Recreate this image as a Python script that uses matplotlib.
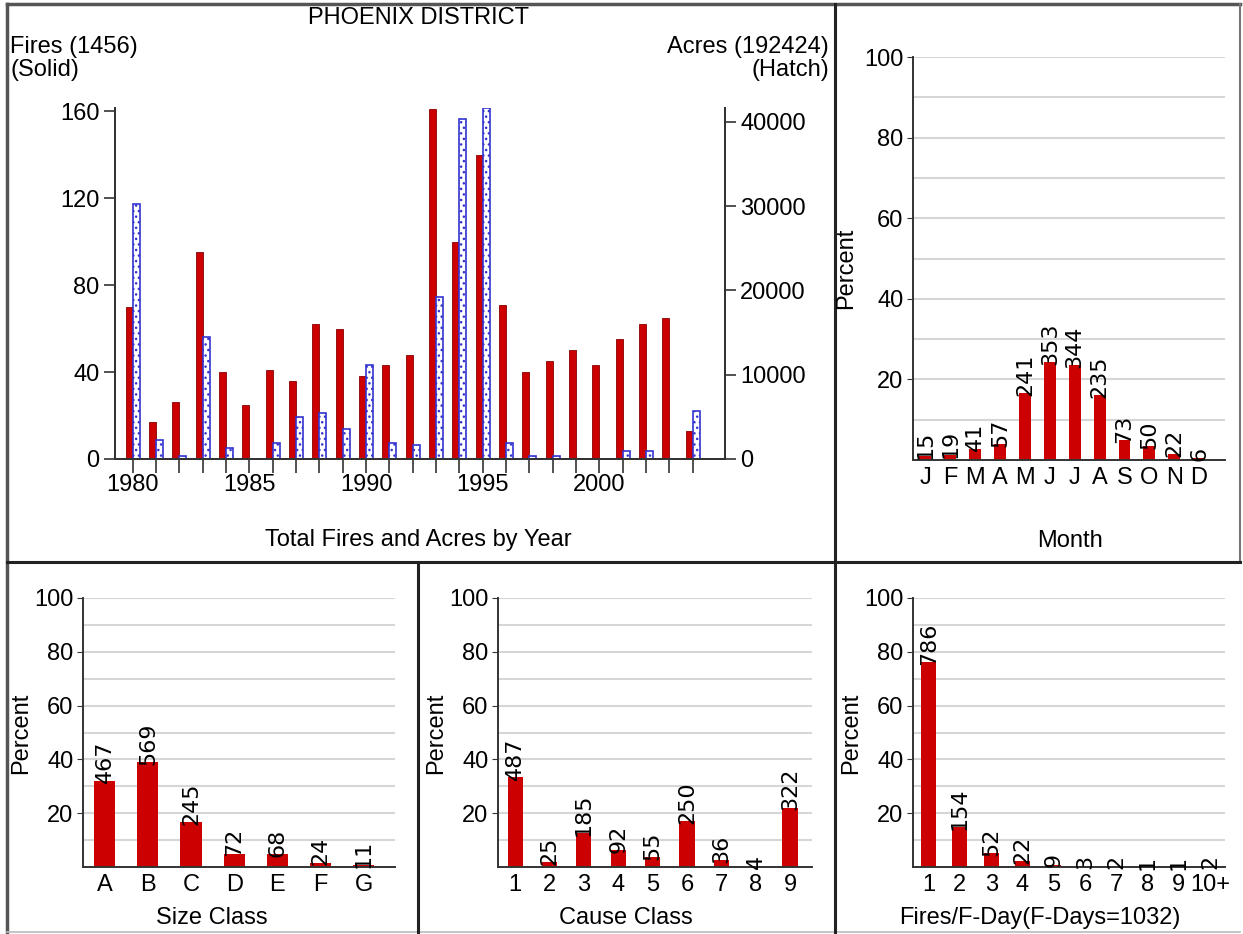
import matplotlib
matplotlib.use("Agg")
import matplotlib.pyplot as plt
from matplotlib import font_manager
from matplotlib.lines import Line2D
import numpy as np

# pick a narrow sans if we have one, the reference text is tall and thin
names = {f.name for f in font_manager.fontManager.ttflist}
if 'Liberation Sans Narrow' in names:
    plt.rcParams['font.family'] = ['Liberation Sans Narrow', 'DejaVu Sans']
else:
    plt.rcParams['font.family'] = ['Liberation Sans', 'DejaVu Sans']
plt.rcParams['hatch.linewidth'] = 1.0

# ---- data ----
years = list(range(1980, 2005))
fires = [70, 17, 26, 95, 40, 25, 41, 36, 62, 60, 38, 43, 48,
         161, 100, 140, 71, 40, 45, 50, 43, 55, 62, 65, 13]
acres = [30270, 2255, 300, 14500, 1340, 0, 1935, 4950, 5420, 3525, 11120, 1935, 1625,
         19190, 40320, 41630, 1935, 300, 400, 0, 0, 950, 950, 0, 5700]

months = ['J', 'F', 'M', 'A', 'M', 'J', 'J', 'A', 'S', 'O', 'N', 'D']
month_counts = [15, 19, 41, 57, 241, 353, 344, 235, 73, 50, 22, 6]

size_cls = ['A', 'B', 'C', 'D', 'E', 'F', 'G']
size_counts = [467, 569, 245, 72, 68, 24, 11]

cause_cls = ['1', '2', '3', '4', '5', '6', '7', '8', '9']
cause_counts = [487, 25, 185, 92, 55, 250, 36, 4, 322]

fday_cls = ['1', '2', '3', '4', '5', '6', '7', '8', '9', '10+']
fday_counts = [786, 154, 52, 22, 9, 3, 2, 1, 1, 2]

total_fires = 1456
total_acres = 192424
fdays = 1032

RED = '#cc0000'
BLUE = '#3434d0'
DARK = '#333333'
GRID = '#d6d6d6'
FS = 17

W, H = 1243, 934
fig = plt.figure(figsize=(W / 100, H / 100), dpi=100)


def box(x0, y0, x1, y1):
    return [x0 / W, 1 - y1 / H, (x1 - x0) / W, (y1 - y0) / H]


def ftext(x, y, s, **kw):
    fig.text(x / W, 1 - y / H, s, **kw)


def fline(xs, ys, **kw):
    fig.add_artist(Line2D([x / W for x in xs], [1 - y / H for y in ys], **kw))


# ---- top left: fires and acres by year ----
ax = fig.add_axes(box(115, 108, 725, 459))
ax.bar(years, fires, width=-0.3, align='edge', color=RED, edgecolor='#8a0000', linewidth=0.6)
ax2 = ax.twinx()
ax2.bar(years, acres, width=0.3, align='edge', facecolor='white', edgecolor=BLUE,
        hatch='...', linewidth=1.2)
ax.set_xlim(1979.24, 2005.38)
ax.set_ylim(0, 161.4)
ax2.set_ylim(0, 41660)
ax.set_yticks([0, 40, 80, 120, 160])
ax2.set_yticks([0, 10000, 20000, 30000, 40000])
ax.set_xticks(years)
ax.set_xticklabels([str(y) if y % 5 == 0 else '' for y in years])
for a in (ax, ax2):
    a.spines['top'].set_visible(False)
    for s in a.spines.values():
        s.set_color(DARK)
        s.set_linewidth(1.4)
    a.tick_params(direction='out', length=8, width=1.2, color=DARK, labelsize=FS, pad=3)
ax.tick_params(axis='x', length=10, pad=1)

ftext(418, 18, 'PHOENIX DISTRICT', ha='center', va='center', fontsize=FS)
ftext(10, 36, 'Fires (%d)\n(Solid)' % total_fires, ha='left', va='top', fontsize=FS,
      linespacing=1.05)
ftext(829, 36, 'Acres (%d)\n(Hatch)' % total_acres, ha='right', va='top', fontsize=FS,
      multialignment='right', linespacing=1.05)
ftext(418, 540, 'Total Fires and Acres by Year', ha='center', va='center', fontsize=FS)


# ---- percent panels ----
def pct_panel(rect, cats, counts, total, width, xmax, xlabel, xlab_pos, ylab_pos):
    a = fig.add_axes(box(*rect))
    x = np.arange(len(cats))
    pct = np.array(counts) / total * 100
    for g in range(10, 101, 10):
        a.axhline(g, color=GRID, lw=1.5, zorder=0)
    a.bar(x, pct, width, color=RED, zorder=2)
    for xi, p, c in zip(x, pct, counts):
        a.annotate(str(c), (xi, p), xytext=(0, -2), textcoords='offset points',
                   rotation=90, ha='center', va='bottom', fontsize=16,
                   family=['DejaVu Sans'], zorder=3)
    a.set_xlim(-0.5, xmax)
    a.set_ylim(0, 100)
    a.set_yticks([20, 40, 60, 80, 100])
    a.set_xticks(x)
    a.set_xticklabels(cats)
    for side in ('top', 'right'):
        a.spines[side].set_visible(False)
    for side in ('left', 'bottom'):
        a.spines[side].set_color(DARK)
        a.spines[side].set_linewidth(1.4)
    a.tick_params(axis='y', direction='out', length=4, color=DARK, labelsize=FS, pad=3)
    a.tick_params(axis='x', length=0, labelsize=FS, pad=5)
    ftext(xlab_pos[0], xlab_pos[1], xlabel, ha='center', va='center', fontsize=FS)
    ftext(ylab_pos[0], ylab_pos[1], 'Percent', ha='center', va='center', fontsize=FS,
          rotation=90)
    return a


pct_panel((913, 57, 1225, 460), months, month_counts, total_fires, 0.48, 12.04,
          'Month', (1070, 541), (846, 268))
pct_panel((83, 598, 395, 867), size_cls, size_counts, total_fires, 0.49, 6.72,
          'Size Class', (212, 918), (21, 733))
pct_panel((498, 598, 812, 867), cause_cls, cause_counts, total_fires, 0.44, 8.64,
          'Cause Class', (626, 918), (436, 733))
pct_panel((913, 598, 1225, 867), fday_cls, fday_counts, fdays, 0.48, 9.48,
          'Fires/F-Day(F-Days=%d)' % fdays, (1040, 918), (851, 733))

# ---- panel borders ----
fline([7, 1240], [4, 4], color='#555555', lw=2.5)
fline([7, 7], [4, 932], color='#555555', lw=2.5)
fline([1240, 1240], [4, 560], color='#777777', lw=1.5)
fline([7, 1240], [932, 932], color='#bbbbbb', lw=1.2)
fline([7, 1240], [562, 562], color='#222222', lw=2.2)
fline([835, 835], [4, 932], color='#222222', lw=2.2)
fline([418, 418], [562, 932], color='#222222', lw=2.2)

fig.savefig('out.png', dpi=100)
